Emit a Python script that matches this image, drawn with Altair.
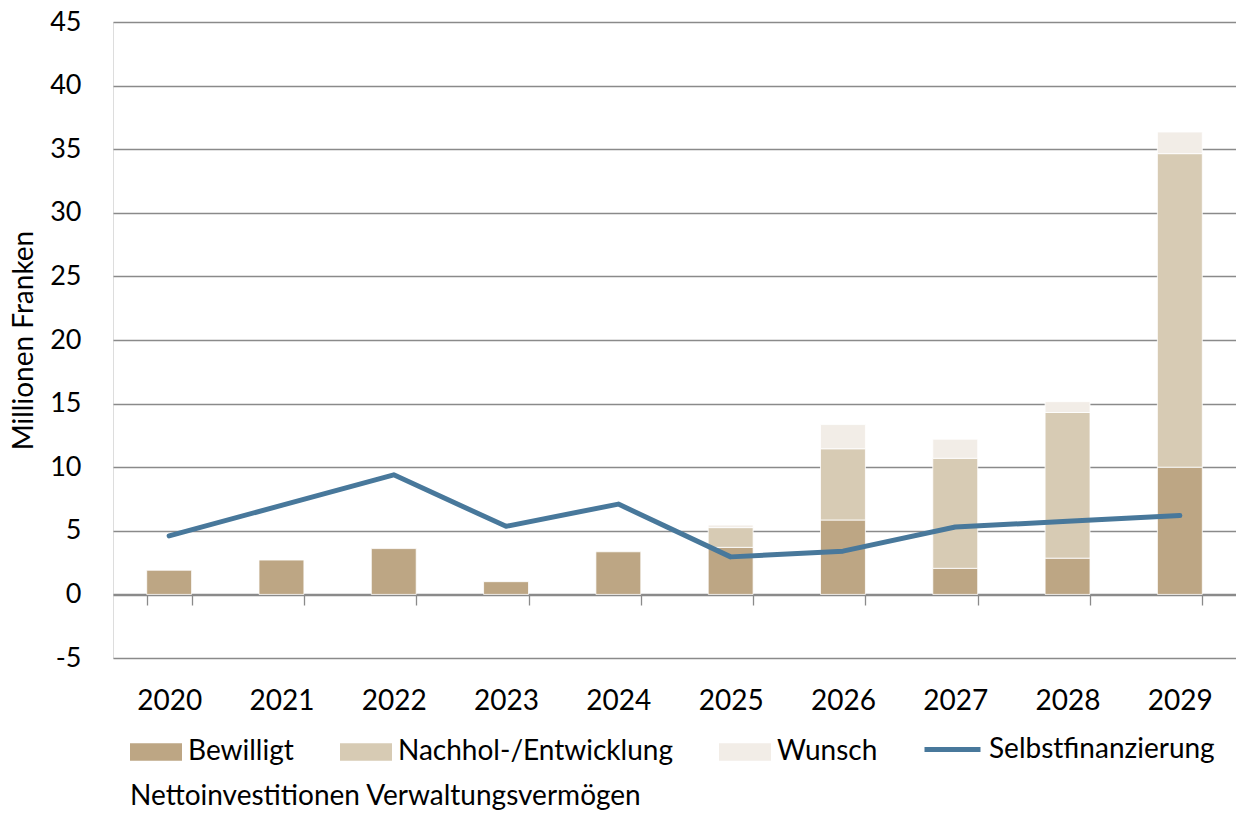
import altair as alt
import pandas as pd

years = ["2020", "2021", "2022", "2023", "2024", "2025", "2026", "2027", "2028", "2029"]
bewilligt = [1.9, 2.7, 3.6, 1.0, 3.35, 3.7, 5.85, 2.05, 2.85, 10.0]
nachhol = [0, 0, 0, 0, 0, 1.55, 5.6, 8.65, 11.45, 24.65]
wunsch = [0, 0, 0, 0, 0, 0.2, 1.9, 1.5, 0.85, 1.7]
selbst = [4.6, 7.0, 9.4, 5.35, 7.1, 2.95, 3.4, 5.3, 5.75, 6.2]

series = ["Bewilligt", "Nachhol-/Entwicklung", "Wunsch"]
bar_colors = ["#BDA684", "#D7CBB4", "#F2EDE7"]
line_name = "Selbstfinanzierung"
line_color = "#48789B"
legend_title = "Nettoinvestitionen Verwaltungsvermögen"
y_title = "Millionen Franken"
y_ticks = [-5, 0, 5, 10, 15, 20, 25, 30, 35, 40, 45]

FONT = "Lato"
FS = 28
GRID = "#8a8a8a"

rows = []
for i, y in enumerate(years):
    for k, (name, vals) in enumerate(zip(series, [bewilligt, nachhol, wunsch])):
        if vals[i] > 0:
            rows.append({"year": y, "series": name, "value": vals[i], "idx": k})
df_bars = pd.DataFrame(rows)
df_line = pd.DataFrame({"year": years, "value": selbst, "series": [line_name] * len(years)})

x_scale = alt.Scale(domain=years, paddingInner=0.6, paddingOuter=0.3)
y_scale = alt.Scale(domain=[-5, 45], nice=False, zero=False)

bars = alt.Chart(df_bars).mark_bar(stroke="white", strokeWidth=0.8).encode(
    x=alt.X("year:N", sort=years, scale=x_scale, title=None,
            axis=alt.Axis(domain=True, domainColor=GRID, domainWidth=1.3,
                          ticks=True, tickBand="extent", tickSize=10, tickColor=GRID, tickWidth=1.3,
                          labelFont=FONT, labelFontSize=FS, labelColor="black",
                          labelBaseline="alphabetic", labelPadding=104, labelAngle=0,
                          offset=-63, grid=False)),
    y=alt.Y("value:Q", stack="zero", scale=y_scale, title=y_title,
            axis=alt.Axis(values=y_ticks, domain=False, ticks=False, grid=True,
                          gridColor=GRID, gridWidth=1.3, labelExpr="'' + datum.value",
                          labelFont=FONT, labelFontSize=27, labelColor="black", labelPadding=32,
                          titleFont=FONT, titleFontSize=FS, titleFontWeight="normal",
                          titleColor="black", titlePadding=11)),
    fill=alt.Fill("series:N", scale=alt.Scale(domain=series, range=bar_colors),
                  legend=alt.Legend(orient="none", legendX=17, legendY=704, direction="horizontal",
                                    symbolType="M-1,-0.34L1,-0.34L1,0.34L-1,0.34Z", symbolSize=2704,
                                    symbolStrokeWidth=0,
                                    labelFont=FONT, labelFontSize=FS, labelColor="black",
                                    labelOffset=6, labelLimit=500, columnPadding=46,
                                    title=legend_title, titleOrient="bottom", titleAnchor="start",
                                    titleFont=FONT, titleFontSize=FS, titleFontWeight="normal",
                                    titleColor="black", titleLimit=1200, titlePadding=17)),
    order=alt.Order("idx:Q"),
)

line = alt.Chart(df_line).mark_line(strokeWidth=5, strokeCap="round", strokeJoin="round").encode(
    x=alt.X("year:N", sort=years, scale=x_scale),
    y=alt.Y("value:Q", scale=y_scale),
    stroke=alt.Stroke("series:N", scale=alt.Scale(domain=[line_name], range=[line_color]),
                      legend=alt.Legend(orient="none", legendX=809, legendY=697, direction="horizontal",
                                        symbolType="stroke", symbolSize=3136, symbolStrokeWidth=5,
                                        labelFont=FONT, labelFontSize=FS, labelColor="black",
                                        labelOffset=6, labelLimit=500, title=None)),
)

chart = alt.layer(bars, line).properties(
    width=1123, height=636,
    autosize=alt.AutoSizeParams(type="none"),
    padding={"left": 105, "top": 14, "right": 0, "bottom": 152},
).configure_view(stroke=None).configure(background="white")

chart.save("out.html", embed_options={"renderer": "svg", "actions": False})
